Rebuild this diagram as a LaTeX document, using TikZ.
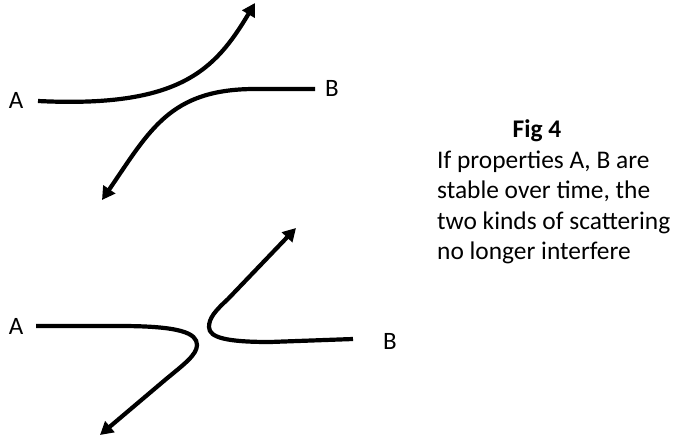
\documentclass[tikz,border=0pt]{standalone}
\usepackage{fontspec}
\setmainfont{Carlito}
\usetikzlibrary{arrows.meta}
\begin{document}
\begin{tikzpicture}[x=1pt,y=-1pt,
  curve/.style={line width=4.2pt,line cap=butt},
  arr/.style={curve,-{Triangle[length=13pt,width=14pt]}},
  lab/.style={font=\fontsize{25}{30}\selectfont,inner sep=0pt},
  captext/.style={font=\fontsize{25.4}{30.5}\selectfont,inner sep=0pt,anchor=base west}]
\useasboundingbox (0,0) rectangle (674,439);
% top
\node[lab] (A1) at (16,100) {A};
\node[lab] (B1) at (332,88) {B};
\coordinate (a1s) at (38,101);
\coordinate (a1e) at (255,3);
\coordinate (b1s) at (315,89);
\coordinate (b1e) at (102,200);
\draw[arr] (a1s) .. controls (180,108) and (215,70) .. (a1e);
\draw[arr] (b1s) -- (255,89) .. controls (170,89) and (150,130) .. (b1e);
% bottom
\node[lab] (A2) at (16,326) {A};
\node[lab] (B2) at (390,341) {B};
\coordinate (a2s) at (36,326);
\coordinate (a2e) at (100,435);
\coordinate (b2s) at (353,339);
\coordinate (b2e) at (296,228);
\draw[arr] (a2s) -- (120,326) .. controls (180,326) and (197,333) .. (197,345)
  .. controls (197,355) and (183,365) .. (165,380) -- (a2e);
\draw[arr] (b2s) -- (270,342) .. controls (228,342) and (209,338) .. (209,327)
  .. controls (209,318) and (215,311) .. (228,299) -- (b2e);
% caption
\node[font=\fontsize{25.4}{30.5}\selectfont\bfseries,inner sep=0pt,anchor=base] (fig) at (537,137) {Fig 4};
\node[captext] (l1) at (437,168) {If properties A, B are};
\node[captext] (l2) at (437,198.5) {stable over time, the};
\node[captext] (l3) at (437,229) {two kinds of scattering};
\node[captext] (l4) at (437,259.5) {no longer interfere};
\end{tikzpicture}
\end{document}
